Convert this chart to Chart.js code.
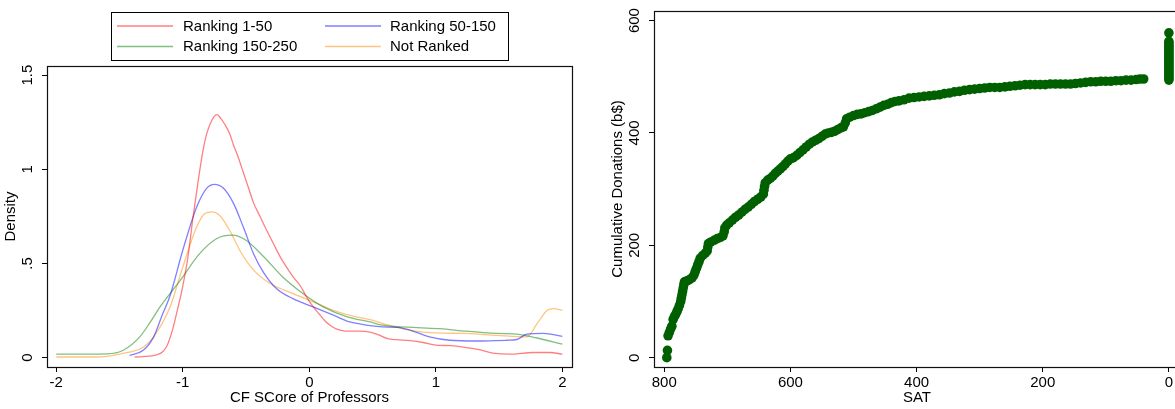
<!DOCTYPE html>
<html>
<head>
<meta charset="utf-8">
<script src="https://cdn.jsdelivr.net/npm/chart.js@4"></script>
<style>
  html, body { margin: 0; padding: 0; background: #fff; overflow: hidden; width: 1175px; height: 409px; }
  #left { position: absolute; left: 0; top: 0; }
  #right { position: absolute; left: 600px; top: 0; }
</style>
</head>
<body>
<canvas id="left" width="600" height="409"></canvas>
<canvas id="right" width="600" height="409"></canvas>
<script>
// Left panel: kernel densities of CF score by ranking group
const rank1to50X = [-1.38, -1.21, -1.13, -1.08, -1.04, -1.0, -0.96, -0.92, -0.88, -0.84, -0.81, -0.77, -0.73, -0.70, -0.67, -0.63, -0.60, -0.56, -0.52, -0.48, -0.44, -0.39, -0.34, -0.28, -0.23, -0.18, -0.13, -0.07, -0.02, 0.03, 0.08, 0.13, 0.19, 0.25, 0.32, 0.40, 0.48, 0.55, 0.62, 0.69, 0.80, 0.90, 1.0, 1.12, 1.24, 1.34, 1.45, 1.59, 1.77, 1.90, 2.0];
const rank1to50Y = [0.003, 0.014, 0.056, 0.15, 0.26, 0.38, 0.53, 0.74, 0.93, 1.10, 1.19, 1.26, 1.29, 1.27, 1.24, 1.19, 1.13, 1.06, 0.98, 0.90, 0.82, 0.75, 0.68, 0.60, 0.535, 0.48, 0.43, 0.38, 0.32, 0.27, 0.23, 0.19, 0.16, 0.145, 0.14, 0.14, 0.135, 0.12, 0.10, 0.095, 0.09, 0.08, 0.066, 0.063, 0.053, 0.042, 0.024, 0.018, 0.027, 0.027, 0.018];

const rank50to150X = [-1.42, -1.31, -1.23, -1.16, -1.10, -1.0, -0.89, -0.81, -0.75, -0.68, -0.60, -0.52, -0.44, -0.36, -0.26, -0.13, 0.03, 0.19, 0.32, 0.48, 0.58, 0.70, 0.80, 0.95, 1.11, 1.32, 1.56, 1.64, 1.72, 1.85, 2.0];
const rank50to150Y = [0.012, 0.04, 0.11, 0.23, 0.33, 0.57, 0.80, 0.90, 0.92, 0.90, 0.82, 0.69, 0.55, 0.45, 0.367, 0.313, 0.269, 0.225, 0.189, 0.17, 0.163, 0.16, 0.145, 0.11, 0.092, 0.088, 0.092, 0.096, 0.124, 0.128, 0.113];

const rank150to250X = [-2.0, -1.60, -1.47, -1.34, -1.26, -1.18, -1.02, -0.865, -0.73, -0.61, -0.50, -0.36, -0.21, -0.05, 0.11, 0.30, 0.48, 0.58, 0.85, 1.03, 1.24, 1.48, 1.64, 1.80, 2.0];
const rank150to250Y = [0.018, 0.02, 0.039, 0.11, 0.185, 0.269, 0.41, 0.553, 0.632, 0.65, 0.623, 0.535, 0.428, 0.34, 0.269, 0.216, 0.189, 0.172, 0.159, 0.154, 0.14, 0.128, 0.124, 0.104, 0.071];

const notRankedX = [-2.0, -1.68, -1.48, -1.31, -1.23, -1.10, -1.0, -0.89, -0.825, -0.77, -0.71, -0.63, -0.55, -0.44, -0.31, -0.13, 0.03, 0.19, 0.35, 0.48, 0.58, 0.80, 1.0, 1.24, 1.48, 1.72, 1.80, 1.88, 1.93, 2.0];
const notRankedY = [0.003, 0.003, 0.021, 0.056, 0.11, 0.27, 0.48, 0.694, 0.765, 0.774, 0.756, 0.676, 0.57, 0.464, 0.393, 0.34, 0.296, 0.251, 0.219, 0.202, 0.181, 0.145, 0.131, 0.128, 0.118, 0.11, 0.18, 0.251, 0.26, 0.251];

const scoreTicks = [-2, -1, 0, 1, 2];
const scoreTickLabels = ['-2', '-1', '0', '1', '2'];
const densityTicks = [0, 0.5, 1, 1.5];
const densityTickLabels = ['0', '.5', '1', '1.5'];

// Right panel: cumulative donations against SAT rank
const satScores = [
  796, 795, 794, 792, 790, 788, 786, 784, 782, 780,
  778, 776, 774, 773, 772, 771, 770, 769, 768, 764,
  760, 756, 753, 751, 749, 747, 745, 743, 739, 735,
  732, 731, 730, 726, 721, 716, 711, 707, 705, 704,
  701, 697, 692, 687, 682, 677, 672, 667, 662, 657,
  652, 647, 643, 642, 641, 640, 636, 632, 628, 624,
  620, 616, 612, 608, 604, 600, 595, 590, 585, 580,
  575, 570, 565, 560, 555, 550, 545, 540, 535, 530,
  525, 520, 516, 513, 511, 506, 500, 494, 488, 482,
  476, 470, 464, 458, 452, 446, 440, 434, 428, 420,
  412, 404, 396, 388, 380, 372, 364, 356, 348, 340,
  332, 324, 316, 308, 300, 292, 284, 276, 268, 260,
  252, 244, 236, 228, 220, 212, 204, 196, 188, 180,
  172, 164, 156, 148, 140, 132, 124, 116, 108, 100,
  92, 84, 76, 68, 60, 52, 46, 40,
  0, 0, 0, 0, 0, 0, 0, 0, 0, 0,
  0, 0, 0, 0, 0, 0, 0, 0, 0, 0,
  0, 0, 0, 0, 0
];
const cumDonations = [
  0, 13, 39, 45, 51, 56, 68, 73, 77, 82,
  87, 93, 100, 106, 112, 118, 124, 130, 135, 137,
  139, 142, 147, 153, 159, 165, 171, 177, 182, 186,
  190, 197, 203, 206, 209, 212, 214, 217, 224, 231,
  236, 240, 245, 250, 254, 259, 264, 268, 273, 278,
  282, 286, 291, 298, 305, 311, 316, 319, 323, 328,
  332, 336, 340, 345, 350, 354, 356, 360, 365, 370,
  375, 380, 384, 387, 390, 394, 398, 400, 401, 403,
  406, 409, 411, 418, 425, 428, 431, 433, 434, 436,
  438, 440, 443, 446, 449, 451, 454, 456, 457, 459,
  462, 463, 464, 465, 466, 467, 468, 470, 471, 473,
  474, 476, 477, 478, 479, 480, 481, 481, 481, 482,
  483, 484, 485, 486, 486, 486, 486, 486, 487, 487,
  487, 487, 487, 488, 489, 490, 491, 491, 492, 492,
  492, 493, 493, 494, 494, 495, 496, 496,
  494, 497, 500, 503, 506, 509, 512, 515, 518, 521,
  524, 527, 530, 533, 536, 539, 542, 545, 548, 551,
  554, 557, 560, 563, 578
];

const satTicks = [800, 600, 400, 200, 0];
const satTickLabels = ['800', '600', '400', '200', '0'];
const donationTicks = [0, 200, 400, 600];
const donationTickLabels = ['0', '200', '400', '600'];

const FONT = "'Liberation Sans', Arial, Helvetica, sans-serif";
Chart.defaults.font.family = FONT;
Chart.defaults.font.size = 15;
Chart.defaults.color = '#000';

const toPoints = (xs, ys) => xs.map((x, i) => ({ x: x, y: ys[i] }));

// box round the plot region, like Stata's plotregion
const frame = {
    id: 'frame',
    afterDraw(chart) {
        const { ctx, chartArea: a } = chart;
        const l = Math.round(a.left) + 0.5, t = Math.round(a.top) + 0.5;
        const r = Math.round(a.right) + 0.5, b = Math.round(a.bottom) + 0.5;
        ctx.save();
        ctx.strokeStyle = '#111';
        ctx.lineWidth = 1.2;
        ctx.strokeRect(l, t, r - l, b - t);
        ctx.restore();
    }
};

// two-column legend in a box above the plot
const boxLegend = {
    id: 'boxLegend',
    afterDraw(chart) {
        const ctx = chart.ctx;
        ctx.save();
        ctx.strokeStyle = '#000';
        ctx.lineWidth = 1;
        ctx.strokeRect(111.5, 12.5, 397, 48);
        ctx.font = '15px ' + FONT;
        ctx.textBaseline = 'middle';
        ctx.fillStyle = '#000';
        chart.data.datasets.forEach((ds, i) => {
            const col = i % 2, row = Math.floor(i / 2);
            const lx = col ? 325 : 117, tx = col ? 390 : 183;
            const y = row ? 46.5 : 26;
            ctx.strokeStyle = ds.borderColor;
            ctx.lineWidth = 1.3;
            ctx.beginPath();
            ctx.moveTo(lx, y);
            ctx.lineTo(lx + 56, y);
            ctx.stroke();
            ctx.fillText(ds.label, tx, y + 0.5);
        });
        ctx.restore();
    }
};

const axisGrid = { drawOnChartArea: false, drawTicks: true, tickLength: 5, color: '#000', tickColor: '#000', lineWidth: 1 };
const axisBorder = { display: true, color: '#000', width: 1 };

function densityLine(label, color, xs, ys) {
    return {
        label: label,
        data: toPoints(xs, ys),
        borderColor: color,
        backgroundColor: color,
        borderWidth: 1.3,
        pointRadius: 0,
        fill: false,
        cubicInterpolationMode: 'monotone'
    };
}

new Chart(document.getElementById('left'), {
    type: 'line',
    data: {
        datasets: [
            densityLine('Ranking 1-50', 'rgba(255, 0, 0, 0.5)', rank1to50X, rank1to50Y),
            densityLine('Ranking 50-150', 'rgba(0, 0, 255, 0.5)', rank50to150X, rank50to150Y),
            densityLine('Ranking 150-250', 'rgba(0, 128, 0, 0.5)', rank150to250X, rank150to250Y),
            densityLine('Not Ranked', 'rgba(255, 140, 0, 0.5)', notRankedX, notRankedY)
        ]
    },
    options: {
        responsive: false,
        animation: false,
        devicePixelRatio: 1,
        layout: { padding: { top: 66, right: 28, left: 0, bottom: 0 } },
        plugins: { legend: { display: false }, tooltip: { enabled: false } },
        scales: {
            x: {
                type: 'linear', min: -2.073, max: 2.076,
                afterBuildTicks: s => { s.ticks = scoreTicks.map(v => ({ value: v })); },
                afterFit: s => { s.height = 42; },
                ticks: { maxRotation: 0, padding: 2, callback: (v, i) => scoreTickLabels[i] },
                grid: axisGrid, border: axisBorder,
                title: { display: true, text: 'CF SCore of Professors', padding: { top: 0, bottom: 2 } }
            },
            y: {
                type: 'linear', min: -0.05, max: 1.548,
                afterBuildTicks: s => { s.ticks = densityTicks.map(v => ({ value: v })); },
                afterFit: s => { s.width = 47; },
                ticks: { minRotation: 90, maxRotation: 90, crossAlign: 'center', padding: 4, callback: (v, i) => densityTickLabels[i] },
                grid: axisGrid, border: axisBorder,
                title: { display: true, text: 'Density', padding: { top: 2, bottom: 0 } }
            }
        }
    },
    plugins: [frame, boxLegend]
});

new Chart(document.getElementById('right'), {
    type: 'scatter',
    data: {
        datasets: [{
            label: 'Cumulative Donations',
            data: toPoints(satScores, cumDonations),
            backgroundColor: '#006000',
            borderColor: '#006000',
            borderWidth: 0,
            pointRadius: 4.8
        }]
    },
    options: {
        responsive: false,
        animation: false,
        devicePixelRatio: 1,
        layout: { padding: { top: 6, right: 20, left: 0, bottom: 0 } },
        plugins: { legend: { display: false }, tooltip: { enabled: false } },
        scales: {
            x: {
                type: 'linear', min: -17.6, max: 816.3, reverse: true,
                afterBuildTicks: s => { s.ticks = satTicks.map(v => ({ value: v })); },
                afterFit: s => { s.height = 42; },
                ticks: { maxRotation: 0, padding: 2, callback: (v, i) => satTickLabels[i] },
                grid: axisGrid, border: axisBorder,
                title: { display: true, text: 'SAT', padding: { top: 0, bottom: 2 } }
            },
            y: {
                type: 'linear', min: -16.5, max: 617,
                afterBuildTicks: s => { s.ticks = donationTicks.map(v => ({ value: v })); },
                afterFit: s => { s.width = 54; },
                ticks: { minRotation: 90, maxRotation: 90, crossAlign: 'center', padding: 2, callback: (v, i) => donationTickLabels[i] },
                grid: axisGrid, border: axisBorder,
                title: { display: true, text: 'Cumulative Donations (b$)', padding: { top: 9, bottom: 0 } }
            }
        }
    },
    plugins: [frame]
});
</script>
</body>
</html>
